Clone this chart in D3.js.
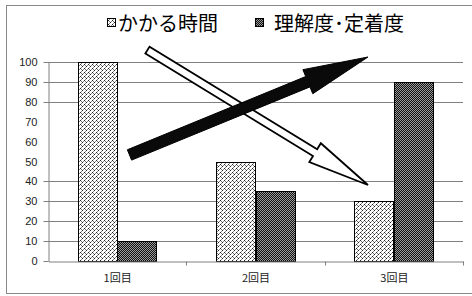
<!DOCTYPE html>
<html><head><meta charset="utf-8">
<script src="https://cdn.jsdelivr.net/npm/d3@7"></script>
<style>html,body{margin:0;padding:0;background:#fff;}svg{display:block;}</style>
</head><body>
<script>
const categories = ["1回目", "2回目", "3回目"];
const seriesNames = ["かかる時間", "理解度･定着度"];
const timeValues = [100, 50, 30];
const understandingValues = [10, 35, 90];
const yTickValues = [0, 10, 20, 30, 40, 50, 60, 70, 80, 90, 100];
const gridTickValues = [0, 10, 20, 30, 40, 80, 90, 100];
// annotation arrows: x in category units (0..3), y in value units
const downArrow = { from: [0.719, 106], to: [2.313, 38.2] };
const upArrow = { from: [0.589, 53.3], to: [2.313, 102.5] };

const W = 472, H = 296;
const plot = { left: 48, right: 463, top: 62, bottom: 261 };

const svg = d3.select("body").append("svg").attr("width", W).attr("height", H);
const defs = svg.append("defs");

// light dotted pattern
const p1 = defs.append("pattern").attr("id", "pat1").attr("patternUnits", "userSpaceOnUse")
  .attr("width", 4).attr("height", 4);
p1.append("rect").attr("width", 4).attr("height", 4).attr("fill", "#fff");
[[0,0,"#222"],[2,2,"#222"],[1,1,"#777"],[3,1,"#888"],[1,3,"#888"]].forEach(([px,py,c])=>{
  p1.append("rect").attr("x",px).attr("y",py).attr("width",1).attr("height",1).attr("fill",c);
});
// dense checker pattern
const p2 = defs.append("pattern").attr("id", "pat2").attr("patternUnits", "userSpaceOnUse")
  .attr("width", 2).attr("height", 2);
p2.append("rect").attr("width", 2).attr("height", 2).attr("fill", "#111");
p2.append("rect").attr("x",0).attr("y",0).attr("width",1).attr("height",1).attr("fill","#9a9a9a");
p2.append("rect").attr("x",1).attr("y",1).attr("width",1).attr("height",1).attr("fill","#9a9a9a");

// chart border
svg.append("rect").attr("x", 6.5).attr("y", 5.5).attr("width", 480).attr("height", 288)
  .attr("fill", "none").attr("stroke", "#888").attr("stroke-width", 1);

const x = d3.scaleBand().domain(categories).range([plot.left, plot.right]).padding(0);
const gap = x.bandwidth() * 0.2145;
const xs = d3.scaleBand().domain(seriesNames).range([gap, x.bandwidth() - gap]).padding(0);
const y = d3.scaleLinear().domain([0, 100]).range([plot.bottom, plot.top]);
const xPos = d3.scaleLinear().domain([0, 3]).range([plot.left, plot.right]);

// gridlines
svg.append("g").selectAll("line").data(gridTickValues.filter(d => d > 0)).join("line")
  .attr("x1", plot.left).attr("x2", plot.right)
  .attr("y1", d => Math.round(y(d)) + 0.5).attr("y2", d => Math.round(y(d)) + 0.5)
  .attr("stroke", "#808080").attr("stroke-width", 1);

// y axis
const yAxis = svg.append("g").attr("transform", `translate(${plot.left + 0.5},0.5)`)
  .call(d3.axisLeft(y).tickValues(yTickValues).tickSize(5).tickPadding(6).tickSizeOuter(0));
yAxis.select(".domain").attr("stroke", "#808080");
yAxis.selectAll(".tick line").attr("stroke", "#808080")
  .attr("opacity", d => gridTickValues.includes(d) ? 1 : 0);
yAxis.selectAll(".tick").attr("transform", d => `translate(0,${Math.round(y(d))})`);
yAxis.selectAll("text").attr("font-family", "Liberation Sans, Arial, sans-serif")
  .attr("font-size", 11).attr("fill", "#222");

// bars
const series = [
  { name: seriesNames[0], values: timeValues, fill: "url(#pat1)" },
  { name: seriesNames[1], values: understandingValues, fill: "url(#pat2)" }
];
const gBars = svg.append("g");
series.forEach(s => {
  gBars.selectAll(null).data(categories).join("rect")
    .attr("x", (c) => Math.round(x(c) + xs(s.name)) + 0.5)
    .attr("y", (c, i) => Math.round(y(s.values[i])) + 0.5)
    .attr("width", Math.round(xs.bandwidth()))
    .attr("height", (c, i) => Math.round(y(0)) - Math.round(y(s.values[i])))
    .attr("fill", s.fill).attr("stroke", "#000").attr("stroke-width", 1);
});

// x axis
const xAxis = svg.append("g").attr("transform", `translate(0.5,${Math.round(y(0)) + 0.5})`)
  .call(d3.axisBottom(x).tickSize(0).tickPadding(13).tickSizeOuter(0));
xAxis.select(".domain").attr("stroke", "#808080");
xAxis.selectAll("text").attr("font-family", "Noto Sans CJK JP, sans-serif")
  .attr("font-size", 11).attr("fill", "#222");
xAxis.selectAll(null).data(categories).join("line")
  .attr("x1", c => Math.round(x(c) + x.bandwidth())).attr("x2", c => Math.round(x(c) + x.bandwidth()))
  .attr("y1", 0).attr("y2", 4).attr("stroke", "#808080");

// arrows
function arrowPath(a, shaftHalf, headLen, headHalf) {
  const x0 = xPos(a.from[0]), y0 = y(a.from[1]);
  const x1 = xPos(a.to[0]), y1 = y(a.to[1]);
  const dx = x1 - x0, dy = y1 - y0, L = Math.hypot(dx, dy);
  const ux = dx / L, uy = dy / L, nx = -uy, ny = ux;
  const bx = x1 - ux * headLen, by = y1 - uy * headLen;
  const pts = [
    [x0 + nx * shaftHalf, y0 + ny * shaftHalf],
    [bx + nx * shaftHalf, by + ny * shaftHalf],
    [bx + nx * headHalf, by + ny * headHalf],
    [x1, y1],
    [bx - nx * headHalf, by - ny * headHalf],
    [bx - nx * shaftHalf, by - ny * shaftHalf],
    [x0 - nx * shaftHalf, y0 - ny * shaftHalf]
  ];
  return "M" + pts.map(p => p.join(",")).join("L") + "Z";
}
svg.append("path").attr("d", arrowPath(downArrow, 4, 62, 11))
  .attr("fill", "#fff").attr("stroke", "#000").attr("stroke-width", 1.8).attr("stroke-linejoin", "miter");
svg.append("path").attr("d", arrowPath(upArrow, 5.6, 65, 13))
  .attr("fill", "#0a0a0a").attr("stroke", "#000").attr("stroke-width", 1);

// legend
const legend = svg.append("g");
const legendItems = [
  { name: seriesNames[0], fill: "url(#pat1)", sx: 107, tx: 118 },
  { name: seriesNames[1], fill: "url(#pat2)", sx: 255, tx: 274 }
];
legendItems.forEach(it => {
  legend.append("rect").attr("x", it.sx + 0.5).attr("y", 18.5).attr("width", 8).attr("height", 8)
    .attr("fill", it.fill).attr("stroke", "#000");
  legend.append("text").attr("x", it.tx).attr("y", 31).text(it.name)
    .attr("font-family", "Noto Sans CJK JP, sans-serif").attr("font-size", 20).attr("fill", "#000");
});
</script>
</body></html>
